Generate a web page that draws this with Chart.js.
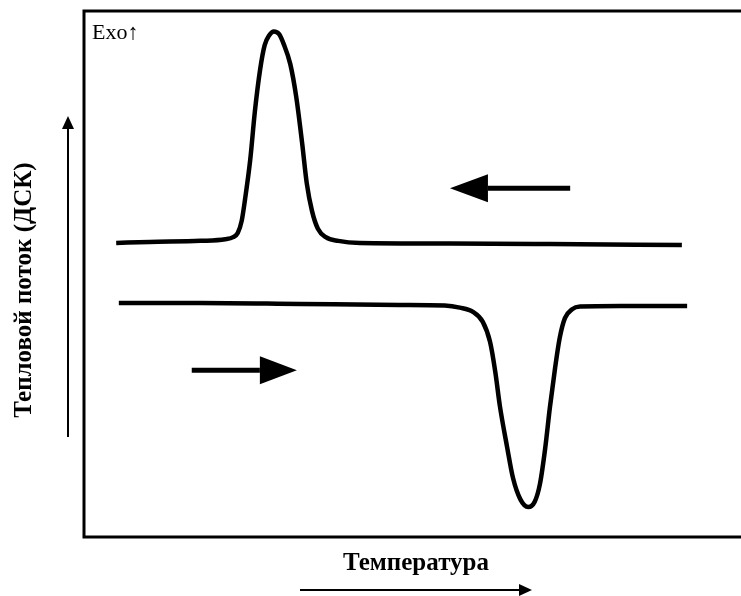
<!DOCTYPE html>
<html>
<head>
<meta charset="utf-8">
<script src="https://cdn.jsdelivr.net/npm/chart.js@4.4.1/dist/chart.umd.min.js"></script>
<style>
html,body{margin:0;padding:0;background:#fff;}
#wrap{width:741px;height:596px;position:relative;}
</style>
</head>
<body>
<div id="wrap"><canvas id="c" width="741" height="596"></canvas></div>
<script>
// Cooling curve (exothermic crystallisation peak), temperature in arbitrary units 0-100
const coolingT = [4.9,10.0,17.7,21.5,22.7,23.4,24.0,24.5,25.3,26.0,26.8,27.5,28.2,28.9,29.7,30.4,31.4,32.3,33.2,33.9,34.7,35.6,36.8,38.7,42.0,55.7,70.9,91.0];
const coolingH = [55.9,56.1,56.3,56.6,57.0,57.8,60.1,64.1,71.7,80.8,88.8,93.5,95.4,96.1,95.6,93.7,89.9,83.7,74.9,67.3,62.0,58.6,57.0,56.3,55.9,55.8,55.7,55.5];
// Heating curve (endothermic melting peak)
const heatingT = [5.3,17.7,32.9,48.1,54.9,57.2,59.2,60.7,61.8,62.6,63.3,64.4,65.3,66.4,67.6,68.6,69.4,70.2,70.9,71.7,72.4,73.2,74.3,75.5,81.6,91.8];
const heatingH = [44.5,44.5,44.3,44.1,44.0,43.6,42.8,40.9,37.1,31.4,24.9,17.1,11.2,7.2,5.7,6.7,10.1,16.9,24.5,32.1,37.8,41.6,43.3,43.8,43.9,43.9];
// Direction arrows inside plot: [xFrom, xTo, y]
const coolArrow = [74.0, 55.7, 66.3];
const heatArrow = [16.4, 32.4, 31.7];
const xTitle = 'Температура';
const yTitle = 'Тепловой поток (ДСК)';
const exoLabel = 'Exo↑';

const toPts = (xs, ys) => xs.map((x, i) => ({x, y: ys[i]}));

function arrowH(ctx, x1, x2, y, thick, headLen, headHalf) {
  const dir = Math.sign(x2 - x1);
  const base = x2 - dir * headLen;
  ctx.save();
  ctx.strokeStyle = '#000'; ctx.fillStyle = '#000';
  ctx.lineWidth = thick; ctx.lineCap = 'butt';
  ctx.beginPath(); ctx.moveTo(x1, y); ctx.lineTo(base, y); ctx.stroke();
  ctx.beginPath(); ctx.moveTo(x2, y); ctx.lineTo(base, y - headHalf); ctx.lineTo(base, y + headHalf); ctx.closePath(); ctx.fill();
  ctx.restore();
}
function arrowV(ctx, x, y1, y2, thick, headLen, headHalf) {
  const dir = Math.sign(y2 - y1);
  const base = y2 - dir * headLen;
  ctx.save();
  ctx.strokeStyle = '#000'; ctx.fillStyle = '#000';
  ctx.lineWidth = thick;
  ctx.beginPath(); ctx.moveTo(x, y1); ctx.lineTo(x, base); ctx.stroke();
  ctx.beginPath(); ctx.moveTo(x, y2); ctx.lineTo(x - headHalf, base); ctx.lineTo(x + headHalf, base); ctx.closePath(); ctx.fill();
  ctx.restore();
}

const decor = {
  id: 'decor',
  beforeDraw(chart) {
    const ctx = chart.ctx;
    ctx.save();
    ctx.fillStyle = '#fff';
    ctx.fillRect(0, 0, chart.width, chart.height);
    ctx.restore();
  },
  afterDraw(chart) {
    const ctx = chart.ctx, a = chart.chartArea, xs = chart.scales.x, ys = chart.scales.y;
    // frame
    ctx.save();
    ctx.strokeStyle = '#000'; ctx.lineWidth = 3;
    ctx.beginPath();
    ctx.moveTo(a.right + 5, a.top); ctx.lineTo(a.left, a.top); ctx.lineTo(a.left, a.bottom); ctx.lineTo(a.right + 5, a.bottom);
    ctx.stroke();
    // Exo label
    ctx.fillStyle = '#000';
    ctx.font = '22px "Liberation Serif", serif';
    ctx.textAlign = 'left'; ctx.textBaseline = 'alphabetic';
    ctx.fillText(exoLabel, a.left + 8, a.top + 28);
    // arrows inside
    arrowH(ctx, xs.getPixelForValue(coolArrow[0]), xs.getPixelForValue(coolArrow[1]), ys.getPixelForValue(coolArrow[2]), 5, 38, 14);
    arrowH(ctx, xs.getPixelForValue(heatArrow[0]), xs.getPixelForValue(heatArrow[1]), ys.getPixelForValue(heatArrow[2]), 5, 37, 14);
    // axis titles
    ctx.font = 'bold 25px "Liberation Serif", serif';
    ctx.textAlign = 'center'; ctx.textBaseline = 'middle';
    ctx.fillText(xTitle, 416, a.bottom + 27);
    arrowH(ctx, 300, 532, a.bottom + 53, 2, 13, 6);
    ctx.save();
    ctx.translate(25, 290);
    ctx.rotate(-Math.PI / 2);
    ctx.fillText(yTitle, 0, 0);
    ctx.restore();
    arrowV(ctx, a.left - 16, 437, 116, 2, 13, 6);
    ctx.restore();
  }
};

new Chart(document.getElementById('c'), {
  type: 'scatter',
  data: {
    datasets: [
      { data: toPts(coolingT, coolingH), showLine: true, borderColor: '#000', borderWidth: 4.5, borderJoinStyle: 'round', pointRadius: 0, cubicInterpolationMode: 'monotone', fill: false },
      { data: toPts(heatingT, heatingH), showLine: true, borderColor: '#000', borderWidth: 4.5, borderJoinStyle: 'round', pointRadius: 0, cubicInterpolationMode: 'monotone', fill: false }
    ]
  },
  options: {
    responsive: false,
    animation: false,
    layout: { padding: { left: 84, top: 11, right: 0, bottom: 59 } },
    plugins: { legend: { display: false }, tooltip: { enabled: false } },
    scales: {
      x: { type: 'linear', min: 0, max: 100, display: false },
      y: { type: 'linear', min: 0, max: 100, display: false }
    }
  },
  plugins: [decor]
});
</script>
</body>
</html>
